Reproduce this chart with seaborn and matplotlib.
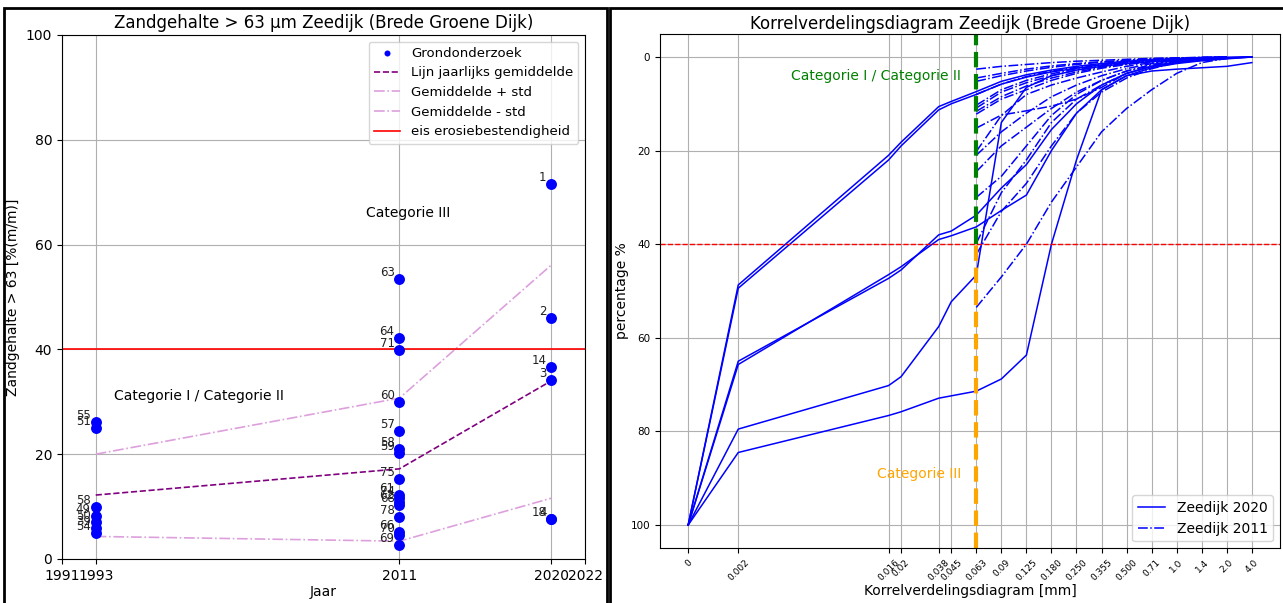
import numpy as np
import pandas as pd
import matplotlib
matplotlib.use("Agg")
import matplotlib.pyplot as plt
import seaborn as sns
from matplotlib.lines import Line2D
from matplotlib.patches import Rectangle

# ---------------------------------------------------------------------------
#  Zandgehalte > 63 um per monster (links)
# ---------------------------------------------------------------------------
monsters_1993 = ["55", "51", "58", "49", "50", "39", "54"]
zand_1993 = [26.1, 25.0, 10.0, 8.2, 7.0, 6.0, 5.0]

monsters_2011 = ["63", "64", "71", "60", "57", "58", "59", "75",
                 "61", "74", "62", "68", "78", "66", "70", "69"]
zand_2011 = [53.5, 42.2, 39.8, 30.0, 24.5, 21.0, 20.2, 15.2,
             12.2, 11.6, 10.9, 10.3, 8.0, 5.2, 4.5, 2.6]

monsters_2020 = ["1", "2", "14", "3", "18", "4"]
zand_2020 = [71.6, 46.0, 36.7, 34.1, 7.7, 7.7]

gem_jaren = [1993, 2011, 2020]
gemiddelde = [12.2, 17.2, 34.0]
gem_plus_std = [20.0, 30.7, 56.1]
gem_min_std = [4.3, 3.4, 11.6]
eis_erosie = 40

jaar_ticks = [1991, 1993, 2011, 2020, 2022]

# ---------------------------------------------------------------------------
#  Korrelverdeling (rechts)
# ---------------------------------------------------------------------------
zeef_ticks = [0, 0.002, 0.016, 0.02, 0.038, 0.045, 0.063, 0.09, 0.125, 0.18,
              0.25, 0.355, 0.5, 0.71, 1.0, 1.4, 2.0, 4.0]
zeef_labels = ["0", "0.002", "0.016", "0.02", "0.038", "0.045", "0.063", "0.09",
               "0.125", "0.180", "0.250", "0.355", "0.500", "0.71", "1.0", "1.4",
               "2.0", "4.0"]
# plaats van elke zeef op de as (zoals in het originele diagram)
as_plaats = [0, 2, 8, 8.5, 10, 10.5, 11.5, 12.5, 13.5, 14.5, 15.5, 16.5,
             17.5, 18.5, 19.5, 20.5, 21.5, 22.5]

zeven_2020 = zeef_ticks
korrel_2020 = [
    [100, 48.7, 21.0, 18.2, 10.6, 9.5, 7.4, 5.2, 3.8, 2.8, 2.0, 1.4, 0.9, 0.6, 0.4, 0.2, 0.1, 0.0],
    [100, 49.4, 22.0, 19.0, 11.3, 10.0, 8.0, 5.8, 4.3, 3.2, 2.4, 1.7, 1.1, 0.7, 0.5, 0.3, 0.1, 0.0],
    [100, 65.0, 47.3, 45.5, 38.0, 37.2, 33.8, 28.0, 23.0, 15.5, 10.0, 6.0, 3.5, 2.0, 1.2, 0.7, 0.3, 0.0],
    [100, 65.7, 46.5, 44.8, 39.0, 38.2, 36.3, 32.8, 29.5, 20.0, 12.0, 7.0, 4.0, 2.3, 1.4, 0.8, 0.4, 0.0],
    [100, 79.5, 70.2, 68.3, 57.6, 52.3, 46.6, 14.0, 6.5, 4.0, 2.8, 2.0, 1.4, 1.0, 0.7, 0.4, 0.2, 0.0],
    [100, 84.5, 76.6, 75.8, 72.9, 72.4, 71.4, 68.8, 63.7, 40.0, 22.0, 7.0, 4.0, 3.0, 2.6, 2.3, 2.0, 1.2],
]

zeven_2011 = [0.063, 0.09, 0.125, 0.18, 0.25, 0.355, 0.5, 0.71, 1.0, 1.4, 2.0]
korrel_2011 = [
    [53.5, 47.0, 40.0, 31.0, 23.5, 16.0, 11.0, 7.0, 3.5, 1.2, 0.3],
    [42.2, 33.0, 27.0, 19.0, 12.0, 7.5, 4.5, 2.5, 1.2, 0.5, 0.2],
    [39.8, 29.0, 22.0, 14.0, 9.0, 6.0, 3.5, 2.0, 1.0, 0.4, 0.1],
    [30.0, 25.5, 19.0, 12.5, 8.0, 5.0, 3.0, 1.8, 0.9, 0.4, 0.1],
    [24.5, 19.0, 15.0, 11.0, 7.5, 5.0, 3.0, 1.6, 0.8, 0.3, 0.1],
    [21.0, 16.0, 12.0, 8.5, 6.0, 4.0, 2.5, 1.4, 0.7, 0.3, 0.1],
    [20.2, 12.5, 8.0, 6.0, 4.5, 3.2, 2.0, 1.2, 0.6, 0.3, 0.1],
    [15.2, 12.4, 11.5, 10.5, 9.0, 6.5, 3.5, 2.0, 1.0, 0.4, 0.1],
    [12.2, 9.0, 7.0, 5.0, 3.5, 2.4, 1.6, 1.0, 0.5, 0.2, 0.1],
    [11.6, 8.5, 6.2, 4.5, 3.2, 2.2, 1.5, 0.9, 0.5, 0.2, 0.1],
    [10.9, 7.5, 5.5, 4.0, 2.8, 2.0, 1.3, 0.8, 0.4, 0.2, 0.0],
    [10.3, 7.0, 5.0, 3.6, 2.5, 1.8, 1.2, 0.7, 0.4, 0.2, 0.0],
    [8.0, 5.8, 4.2, 3.0, 2.2, 1.5, 1.0, 0.6, 0.3, 0.1, 0.0],
    [5.2, 4.0, 3.0, 2.2, 1.6, 1.1, 0.8, 0.5, 0.3, 0.1, 0.0],
    [4.5, 3.5, 2.6, 1.9, 1.4, 1.0, 0.7, 0.4, 0.2, 0.1, 0.0],
    [2.6, 2.0, 1.6, 1.2, 0.9, 0.7, 0.5, 0.3, 0.2, 0.1, 0.0],
]
grens_zand = 0.063

# --- dataframes -------------------------------------------------------------
df_zand = pd.concat([
    pd.DataFrame({"jaar": j, "monster": m, "zand": z})
    for j, m, z in [(1993, monsters_1993, zand_1993),
                    (2011, monsters_2011, zand_2011),
                    (2020, monsters_2020, zand_2020)]
], ignore_index=True)

rows = []
for i, curve in enumerate(korrel_2020):
    for d, p in zip(zeven_2020, curve):
        rows.append(("Zeedijk 2020", f"a{i}", d, p))
for i, curve in enumerate(korrel_2011):
    for d, p in zip(zeven_2011, curve):
        rows.append(("Zeedijk 2011", f"b{i}", d, p))
df_korrel = pd.DataFrame(rows, columns=["reeks", "monster", "zeef", "perc"])


# as-schaal: zeefmaat -> plaats op de as
def _lin(v, xs, ys):
    v = np.asarray(v, dtype=float)
    mid = np.interp(v, xs, ys)
    lo = ys[0] + (v - xs[0]) * (ys[1] - ys[0]) / (xs[1] - xs[0])
    hi = ys[-1] + (v - xs[-1]) * (ys[-1] - ys[-2]) / (xs[-1] - xs[-2])
    return np.where(v < xs[0], lo, np.where(v > xs[-1], hi, mid))


def fwd(v):
    return _lin(v, zeef_ticks, as_plaats)


def inv(p):
    return _lin(p, as_plaats, zeef_ticks)


# %%%%%%%%%%%%%%%%%%%%%%%%%%%%%%%%%%%%%%%%%%%%%%%%%%%%%%%%%%%%%%%%%%%%%%%%%%%%%
fig = plt.figure(figsize=(12.83, 6.03), dpi=100)
ax1 = fig.add_axes([0.0483, 0.073, 0.4077, 0.869])
ax2 = fig.add_axes([0.5144, 0.0905, 0.4833, 0.8538])

# ---- links ----
sns.scatterplot(data=df_zand, x="jaar", y="zand", color="blue", s=62,
                linewidth=0, label="Grondonderzoek", ax=ax1, zorder=3)
sns.lineplot(x=gem_jaren, y=gemiddelde, color="purple", linestyle="--", lw=1.2,
             label="Lijn jaarlijks gemiddelde", ax=ax1)
sns.lineplot(x=gem_jaren, y=gem_plus_std, color="plum", linestyle="-.", lw=1.2,
             label="Gemiddelde + std", ax=ax1)
sns.lineplot(x=gem_jaren, y=gem_min_std, color="plum", linestyle="-.", lw=1.2,
             label="Gemiddelde - std", ax=ax1)
ax1.axhline(eis_erosie, color="red", lw=1.2, label="eis erosiebestendigheid")

for _, r in df_zand.iterrows():
    ax1.annotate(r["monster"], (r["jaar"], r["zand"]), xytext=(-3.5, 0),
                 textcoords="offset points", ha="right", va="bottom",
                 fontsize=8.5, color="#222222")

ax1.text(1999.1, 31.1, "Categorie I / Categorie II", fontsize=10, ha="center", va="center")
ax1.text(2011.5, 66.0, "Categorie III", fontsize=10, ha="center", va="center")

ax1.set_xlim(1991, 2022)
ax1.set_ylim(0, 100)
ax1.set_xticks(jaar_ticks)
ax1.set_yticks([0, 20, 40, 60, 80, 100])
ax1.grid(True, color="#b0b0b0", lw=0.8)
ax1.set_axisbelow(True)
ax1.set_xlabel("Jaar", fontsize=10, labelpad=2)
ax1.set_ylabel("Zandgehalte > 63 [%(m/m)]", fontsize=10)
ax1.set_title("Zandgehalte > 63 µm Zeedijk (Brede Groene Dijk)", fontsize=12, pad=5)
ax1.legend(loc="upper right", fontsize=9.5, markerscale=0.55)

# ---- rechts ----
ax2.set_xscale("function", functions=(fwd, inv))
sns.lineplot(data=df_korrel, x="zeef", y="perc", units="monster", estimator=None,
             style="reeks", style_order=["Zeedijk 2020", "Zeedijk 2011"],
             dashes={"Zeedijk 2020": "", "Zeedijk 2011": (6.4, 1.6, 1.0, 1.6)},
             color="blue", lw=1.1, legend=False, ax=ax2)

ax2.set_ylim(105, -5)
ax2.axhline(eis_erosie, color="red", ls="--", lw=1)
frac = (105 - eis_erosie) / 110
ax2.axvline(grens_zand, ymin=frac, ymax=1, color="green", ls="--", lw=3)
ax2.axvline(grens_zand, ymin=0, ymax=frac, color="orange", ls="--", lw=3)
ax2.annotate("Categorie I / Categorie II", (grens_zand, 4.0), xytext=(-11, 0),
             textcoords="offset points", ha="right", va="center",
             color="green", fontsize=10)
ax2.annotate("Categorie III", (grens_zand, 89.0), xytext=(-11, 0),
             textcoords="offset points", ha="right", va="center",
             color="orange", fontsize=10)

ax2.set_xticks(zeef_ticks)
ax2.set_xticklabels(zeef_labels, rotation=45, fontsize=6.5)
ax2.set_yticks([0, 20, 40, 60, 80, 100])
ax2.tick_params(axis="y", labelsize=7.5)
ax2.minorticks_off()
ax2.grid(True, color="#b0b0b0", lw=0.8)
ax2.set_axisbelow(True)
ax2.set_xlabel("Korrelverdelingsdiagram [mm]", fontsize=10, labelpad=1)
ax2.set_ylabel("percentage %", fontsize=10, labelpad=1)
ax2.set_title("Korrelverdelingsdiagram Zeedijk (Brede Groene Dijk)", fontsize=12, pad=3)
handles = [Line2D([], [], color="blue", lw=1.1, ls="-"),
           Line2D([], [], color="blue", lw=1.1, ls="-.")]
ax2.legend(handles, ["Zeedijk 2020", "Zeedijk 2011"], loc="lower right", fontsize=10)

# kaders rond beide panelen
fig.add_artist(Rectangle((0.0031, -0.01), 0.470, 0.9967, transform=fig.transFigure,
                         fill=False, lw=2, ec="black"))
fig.add_artist(Rectangle((0.4754, -0.01), 0.53, 0.9967, transform=fig.transFigure,
                         fill=False, lw=2, ec="black"))

fig.savefig("out.png", dpi=100)
